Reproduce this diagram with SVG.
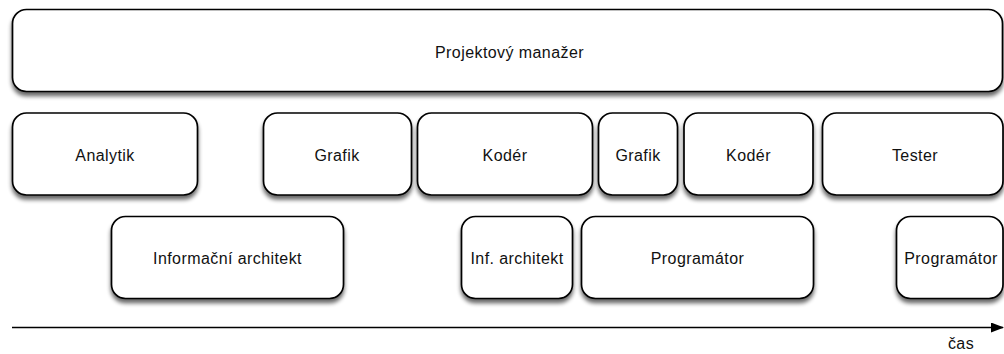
<svg xmlns="http://www.w3.org/2000/svg" width="1004" height="354" viewBox="0 0 1004 354">
  <style>
    .box { fill: #fff; stroke: #000; stroke-width: 1.7; filter: url(#shadow); }
    .label { font-family: "Liberation Sans", Arial, sans-serif; font-size: 16px; letter-spacing: 0.42px; fill: #111; text-anchor: middle; }
    .axis { stroke: #000; stroke-width: 1.6; fill: none; }
  </style>
  <defs>
    <filter id="shadow" x="-10%" y="-20%" width="120%" height="150%">
      <feGaussianBlur in="SourceAlpha" stdDeviation="2.2"/>
      <feOffset dx="0" dy="3.5" result="b"/>
      <feComponentTransfer><feFuncA type="linear" slope="0.6"/></feComponentTransfer>
      <feMerge><feMergeNode/><feMergeNode in="SourceGraphic"/></feMerge>
    </filter>
    <marker id="arrow" markerWidth="13" markerHeight="10" refX="12" refY="5" orient="auto" markerUnits="userSpaceOnUse">
      <path d="M0,0 L13,5 L0,10 Z" fill="#000"/>
    </marker>
  </defs>

  <g id="projektovy-manazer">
    <rect class="box" x="12.5" y="9.5" width="990" height="82" rx="14"/>
    <text class="label" x="509.5" y="57.5">Projektový manažer</text>
  </g>

  <g id="analytik">
    <rect class="box" x="12.5" y="113" width="185" height="82" rx="14"/>
    <text class="label" x="105" y="161">Analytik</text>
  </g>
  <g id="grafik-1">
    <rect class="box" x="263.5" y="113" width="148" height="82" rx="14"/>
    <text class="label" x="337" y="161">Grafik</text>
  </g>
  <g id="koder-1">
    <rect class="box" x="417.5" y="113" width="175" height="82" rx="14"/>
    <text class="label" x="505" y="161">Kodér</text>
  </g>
  <g id="grafik-2">
    <rect class="box" x="598.5" y="113" width="79" height="82" rx="14"/>
    <text class="label" x="638" y="161">Grafik</text>
  </g>
  <g id="koder-2">
    <rect class="box" x="684" y="113" width="129" height="82" rx="14"/>
    <text class="label" x="748.5" y="161">Kodér</text>
  </g>
  <g id="tester">
    <rect class="box" x="822.5" y="113" width="180.5" height="82" rx="14"/>
    <text class="label" x="915" y="161">Tester</text>
  </g>

  <g id="informacni-architekt">
    <rect class="box" x="111.5" y="216.5" width="232" height="82" rx="14"/>
    <text class="label" x="227.5" y="264">Informační architekt</text>
  </g>
  <g id="inf-architekt">
    <rect class="box" x="461.5" y="216.5" width="111" height="82" rx="14"/>
    <text class="label" x="517" y="264">Inf. architekt</text>
  </g>
  <g id="programator-1">
    <rect class="box" x="581.5" y="216.5" width="232" height="82" rx="14"/>
    <text class="label" x="697.5" y="264">Programátor</text>
  </g>
  <g id="programator-2">
    <rect class="box" x="896.5" y="216.5" width="106.5" height="82" rx="14"/>
    <text class="label" x="951" y="264">Programátor</text>
  </g>

  <g id="connectors">
    <line class="axis" x1="12" y1="327.5" x2="1003" y2="327.5" marker-end="url(#arrow)"/>
  </g>
  <g id="cas">
    <text class="label" x="961" y="349">čas</text>
  </g>
</svg>
